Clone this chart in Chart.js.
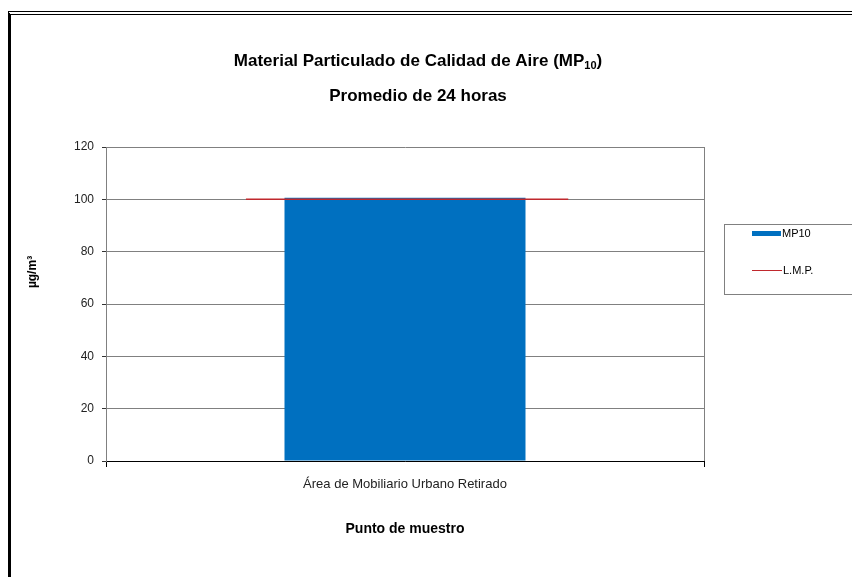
<!DOCTYPE html>
<html>
<head>
<meta charset="utf-8">
<script src="https://cdn.jsdelivr.net/npm/chart.js@4/dist/chart.umd.min.js"></script>
<style>
  html, body { margin: 0; padding: 0; background: #fff; }
  #wrap { position: relative; width: 852px; height: 577px; overflow: hidden; }
  #frame { position: absolute; left: 8px; top: 11px; width: 900px; height: 600px;
           border-top: 4px double #000; border-left: 3px solid #000; pointer-events: none; }
  canvas { position: absolute; left: 0; top: 0; }
</style>
</head>
<body>
<div id="wrap">
  <canvas id="c" width="852" height="577"></canvas>
  <div id="frame"></div>
</div>
<script>
// ---- data ----
const categories = ["Área de Mobiliario Urbano Retirado"];
const mp10Values = [100.6];
const lmpValue = 100;
const lmpSpan = [0.234, 0.773]; // horizontal extent of the limit line (fraction of the category band)
const yTicks = [0, 20, 40, 60, 80, 100, 120];
const titleMain = "Material Particulado de Calidad de Aire (MP";
const titleSub = "10";
const titleEnd = ")";
const titleLine2 = "Promedio de 24 horas";
const yTitle = "µg/m³";
const xTitle = "Punto de muestro";
const seriesNames = ["MP10", "L.M.P."];

const FONT = "'Liberation Sans', Arial, sans-serif";
const barColor = "#0070C0";
const lineColor = "#C0282D";

const titlePlugin = {
  id: 'customTitle',
  afterDraw(chart) {
    const ctx = chart.ctx;
    ctx.save();
    ctx.fillStyle = '#000';
    ctx.textBaseline = 'middle';
    const big = "bold 17px " + FONT;
    const small = "bold 11px " + FONT;
    ctx.font = big;
    const w1 = ctx.measureText(titleMain).width;
    const w3 = ctx.measureText(titleEnd).width;
    ctx.font = small;
    const w2 = ctx.measureText(titleSub).width;
    const total = w1 + w2 + w3;
    const cx = 418;
    let x = cx - total / 2;
    const y1 = 61;
    ctx.textAlign = 'left';
    ctx.font = big;
    ctx.fillText(titleMain, x, y1);
    x += w1;
    ctx.font = small;
    ctx.fillText(titleSub, x, y1 + 5);
    x += w2;
    ctx.font = big;
    ctx.fillText(titleEnd, x, y1);
    ctx.textAlign = 'center';
    ctx.fillText(titleLine2, cx, 96);
    // y axis title
    ctx.save();
    ctx.translate(33, 272);
    ctx.rotate(-Math.PI / 2);
    ctx.font = "bold 12px " + FONT;
    ctx.textAlign = 'center';
    ctx.fillText(yTitle, 0, 0);
    ctx.restore();
    ctx.restore();
  }
};

const legendPlugin = {
  id: 'customLegend',
  afterDraw(chart) {
    const ctx = chart.ctx;
    const ds = chart.data.datasets;
    ctx.save();
    ctx.strokeStyle = '#808080';
    ctx.lineWidth = 1;
    ctx.strokeRect(724.5, 224.5, 140, 70);
    ctx.font = "11px " + FONT;
    ctx.textBaseline = 'middle';
    ctx.textAlign = 'left';
    ctx.fillStyle = '#000';
    ctx.fillStyle = ds[0].backgroundColor;
    ctx.fillRect(752, 231, 29, 5);
    ctx.fillStyle = '#000';
    ctx.fillText(ds[0].label, 782, 234);
    ctx.strokeStyle = ds[1].borderColor;
    ctx.lineWidth = 1;
    ctx.beginPath();
    ctx.moveTo(752, 270.5);
    ctx.lineTo(782, 270.5);
    ctx.stroke();
    ctx.fillText(ds[1].label, 783, 271);
    ctx.restore();
  }
};

new Chart(document.getElementById('c'), {
  type: 'bar',
  data: {
    labels: categories,
    datasets: [
      {
        label: seriesNames[0],
        data: mp10Values,
        backgroundColor: barColor,
        borderWidth: 0,
        categoryPercentage: 1,
        barPercentage: 0.403,
        grouped: false,
        xAxisID: 'x',
        order: 2
      },
      {
        type: 'line',
        label: seriesNames[1],
        data: lmpSpan.map(p => ({ x: p, y: lmpValue })),
        borderColor: lineColor,
        borderWidth: 1.5,
        pointRadius: 0,
        fill: false,
        xAxisID: 'x2',
        order: 1
      }
    ]
  },
  options: {
    responsive: false,
    animation: false,
    devicePixelRatio: 1,
    layout: { padding: { left: 0, top: 147, right: 148, bottom: 0 } },
    plugins: { legend: { display: false }, title: { display: false }, tooltip: { enabled: false } },
    scales: {
      x: {
        type: 'category',
        offset: true,
        grid: { display: true, color: '#808080', tickColor: '#000', tickLength: 6, drawOnChartArea: true },
        border: { color: '#000', width: 1 },
        ticks: { color: '#222', font: { family: FONT, size: 13 }, padding: 10, maxRotation: 0 },
        title: { display: true, text: xTitle, color: '#000', font: { family: FONT, size: 14, weight: 'bold' }, padding: { top: 0, bottom: 39 } },
        afterFit(scale) { scale.height = 116; }
      },
      x2: {
        type: 'linear',
        display: false,
        offset: false,
        grid: { offset: false },
        min: 0,
        max: 1
      },
      y: {
        min: 0,
        max: 120,
        afterBuildTicks(scale) { scale.ticks = yTicks.map(v => ({ value: v })); },
        grid: { color: '#808080', tickColor: '#333', tickLength: 4 },
        border: { color: '#808080', width: 1 },
        ticks: { color: '#222', font: { family: FONT, size: 12 }, padding: 8 },
        title: { display: false },
        afterFit(scale) { scale.width = 106; }
      }
    }
  },
  plugins: [titlePlugin, legendPlugin]
});
</script>
</body>
</html>
